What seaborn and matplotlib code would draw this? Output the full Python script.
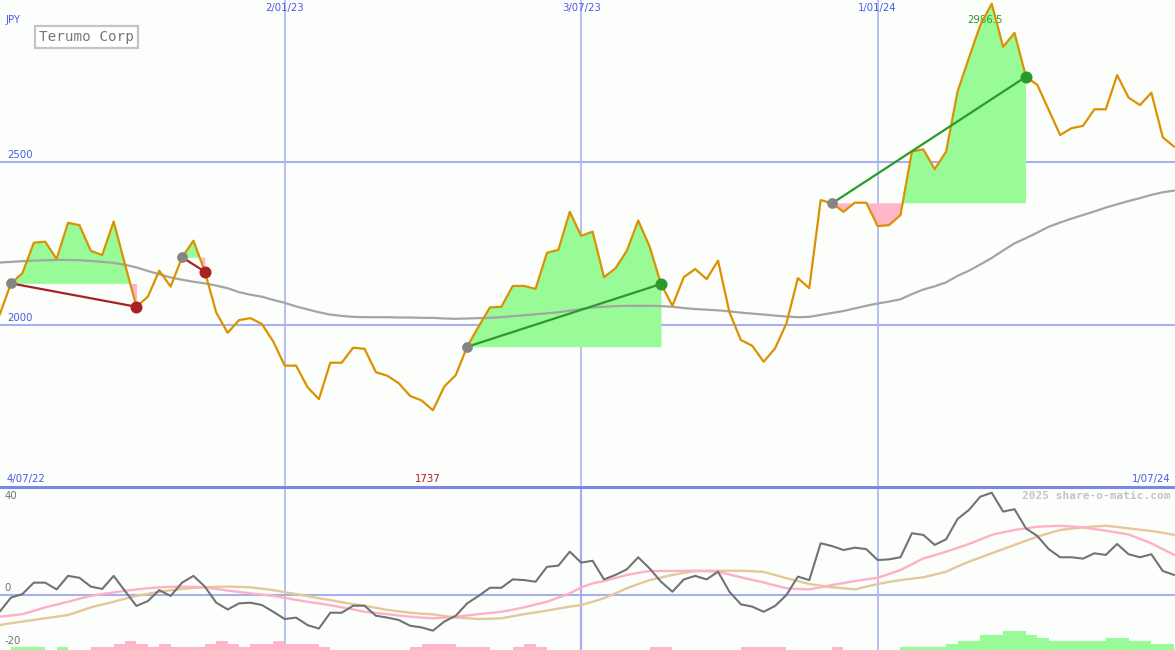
import numpy as np
import pandas as pd
import matplotlib
matplotlib.use('Agg')
import matplotlib.pyplot as plt
import matplotlib.transforms as mtransforms
import seaborn as sns

# Terumo Corp, weekly closes (JPY)
week_start = '2022-07-11'
price = [2030, 2127, 2158, 2252, 2255, 2202, 2313, 2306, 2227, 2214,
         2317, 2185, 2055, 2086, 2166, 2117, 2207, 2258, 2163, 2037,
         1975, 2014, 2020, 2002, 1948, 1874, 1874, 1808, 1771, 1883,
         1883, 1929, 1926, 1854, 1843, 1820, 1781, 1767, 1737, 1810,
         1845, 1932, 1994, 2053, 2055, 2119, 2119, 2110, 2221, 2230,
         2347, 2273, 2286, 2146, 2173, 2227, 2320, 2240, 2125, 2058,
         2146, 2171, 2140, 2197, 2038, 1953, 1935, 1886, 1927, 2004,
         2143, 2112, 2383, 2373, 2347, 2375, 2375, 2303, 2306, 2337,
         2532, 2539, 2478, 2532, 2716, 2820, 2921, 2986.5, 2854, 2897,
         2762, 2737, 2660, 2583, 2604, 2611, 2662, 2662, 2767, 2698,
         2675, 2713, 2576, 2547]

# long moving average (grey line in the price panel)
trend = [2191, 2193, 2195, 2197, 2198, 2199, 2199, 2198, 2196, 2193,
         2190, 2184, 2176, 2165, 2155, 2145, 2138, 2132, 2127, 2120,
         2112, 2100, 2092, 2086, 2076, 2067, 2056, 2047, 2038, 2031,
         2027, 2024, 2023, 2023, 2023, 2022, 2022, 2021, 2021, 2019,
         2018, 2019, 2020, 2021, 2023, 2026, 2029, 2032, 2035, 2038,
         2043, 2048, 2053, 2055, 2057, 2058, 2058, 2058, 2057, 2055,
         2051, 2048, 2046, 2044, 2041, 2037, 2034, 2031, 2028, 2025,
         2023, 2024, 2030, 2036, 2042, 2050, 2058, 2065, 2071, 2078,
         2094, 2108, 2118, 2130, 2150, 2166, 2185, 2205, 2228, 2250,
         2266, 2283, 2301, 2314, 2326, 2337, 2348, 2360, 2370, 2380,
         2389, 2399, 2407, 2412]

# lower panel: momentum and its two smoothings
momentum = [-7.2, -1.1, 0.4, 5.3, 5.3, 2.4, 8.2, 7.4, 3.6, 2.6,
            8.2, 1.7, -4.7, -2.6, 2.1, -0.4, 5.3, 8.2, 3.6, -3.3,
            -6.2, -3.6, -3.3, -4.3, -7.2, -10.3, -9.7, -12.9, -14.4, -7.6,
            -7.6, -4.6, -4.6, -8.9, -9.7, -10.7, -13.2, -13.9, -15.3, -11.4,
            -8.9, -3.6, -0.4, 3.1, 3.1, 6.7, 6.4, 5.7, 12.1, 12.6,
            18.6, 13.9, 14.7, 6.7, 8.6, 11.0, 16.2, 11.4, 5.7, 1.4,
            6.7, 8.2, 6.7, 10.0, 1.4, -4.0, -5.0, -7.2, -4.7, 0.0,
            7.9, 6.4, 22.2, 21.0, 19.3, 20.3, 19.7, 15.0, 15.3, 16.2,
            26.5, 25.8, 21.5, 23.9, 32.6, 36.5, 42.2, 43.9, 35.8, 36.8,
            28.6, 25.3, 19.7, 16.2, 16.2, 15.6, 17.9, 17.2, 21.9, 17.5,
            16.2, 17.5, 10.3, 8.6]

signal_fast = [-9.3, -8.8, -8.2, -6.8, -5.3, -4.1, -2.9, -1.6, -0.4, 0.4,
               1.1, 1.8, 2.4, 2.9, 3.3, 3.5, 3.6, 3.5, 3.3, 2.6,
               1.9, 1.3, 0.7, 0.2, -0.4, -1.2, -2.1, -2.9, -3.6, -4.4,
               -5.3, -6.2, -7.2, -7.7, -8.2, -8.8, -9.3, -9.7, -10.0, -9.7,
               -9.3, -8.8, -8.2, -7.7, -7.2, -6.3, -5.3, -4.1, -2.9, -1.1,
               0.7, 3.3, 5.0, 6.0, 7.3, 8.6, 9.5, 10.3, 10.3, 10.3,
               10.4, 10.4, 10.2, 10.0, 8.8, 7.6, 6.5, 5.4, 4.1, 2.9,
               2.6, 2.4, 3.3, 4.3, 5.1, 6.0, 6.7, 7.4, 9.0, 10.7,
               13.2, 15.7, 17.1, 18.6, 20.2, 21.9, 23.8, 25.8, 26.9, 27.9,
               28.6, 29.3, 29.5, 29.7, 29.4, 29.0, 28.3, 27.6, 26.8, 26.0,
               24.1, 22.2, 19.7, 17.2]

signal_slow = [-12.9, -12.1, -11.4, -10.7, -10.0, -9.3, -8.6, -7.0, -5.3, -4.1,
               -2.9, -1.6, -0.4, 0.5, 1.4, 2.0, 2.6, 3.0, 3.3, 3.5,
               3.6, 3.5, 3.3, 2.7, 2.1, 1.2, 0.4, -0.5, -1.4, -2.2,
               -3.1, -3.9, -4.6, -5.5, -6.4, -7.0, -7.6, -8.0, -8.3, -9.0,
               -9.7, -10.0, -10.3, -10.2, -10.0, -9.1, -8.2, -7.5, -6.7, -5.8,
               -5.0, -4.3, -2.9, -1.4, 0.7, 2.9, 4.7, 6.4, 7.5, 8.6,
               9.5, 10.3, 10.4, 10.4, 10.4, 10.4, 10.2, 9.9, 8.6, 7.2,
               6.0, 4.7, 4.0, 3.3, 2.9, 2.4, 3.6, 4.7, 5.6, 6.4,
               7.0, 7.6, 8.8, 10.0, 12.2, 14.3, 16.1, 17.9, 19.7, 21.5,
               23.3, 25.0, 26.5, 27.9, 28.5, 29.0, 29.4, 29.7, 29.2, 28.6,
               28.0, 27.5, 26.7, 25.8]

# small bars along the foot of the lower panel (+ green, - pink)
hist = [0, 1.3, 1.3, 1.3, 0, 1.3, 0, 0, -1.3, -1.3,
        -2.6, -3.9, -2.6, -1.3, -2.6, -1.3, -1.3, -1.3, -2.6, -3.9,
        -2.6, -1.3, -2.6, -2.6, -3.9, -2.6, -2.6, -2.6, -1.3, 0,
        0, 0, 0, 0, 0, 0, -1.3, -2.6, -2.6, -2.6,
        -1.3, -1.3, -1.3, 0, 0, -1.3, -2.6, -1.3, 0, 0,
        0, 0, 0, 0, 0, 0, 0, -1.3, -1.3, 0,
        0, 0, 0, 0, 0, -1.3, -1.3, -1.3, -1.3, 0,
        0, 0, 0, -1.3, 0, 0, 0, 0, 0, 1.3,
        1.3, 1.3, 1.3, 2.6, 3.9, 3.9, 6.4, 6.4, 8.2, 8.2,
        6.4, 5.2, 3.9, 3.9, 3.9, 3.9, 3.9, 5.2, 5.2, 3.9,
        3.9, 2.6, 2.6, 0]

# signal periods: index of entry and exit week
trade_start = [1, 16, 41, 73]
trade_end = [12, 18, 58, 90]

grid_dates = ['2023-01-02', '2023-07-03', '2024-01-01']
grid_labels = ['2/01/23', '3/07/23', '1/01/24']
price_levels = [2000, 2500]

BG = '#fcfefc'
GRID = '#a4b0f0'
BLUE_TXT = '#4c5ae6'
ORANGE = '#da9200'
GREEN = '#2a9a2a'
RED = '#a82222'
FILL_UP = '#98fb98'
FILL_DN = '#ffb6c8'

sns.set_style('white', {'axes.facecolor': BG, 'figure.facecolor': BG})
plt.rcParams['font.family'] = ['DejaVu Sans']

dates = pd.date_range(week_start, periods=len(price), freq='7D')
price = np.array(price, dtype=float)
df = pd.DataFrame({'date': dates, 'price': price, 'trend': trend,
                   'momentum': momentum, 'fast': signal_fast,
                   'slow': signal_slow, 'hist': hist})

fig = plt.figure(figsize=(11.75, 6.5), dpi=100, facecolor=BG)
ax = fig.add_axes([0, 163 / 650, 1, 487 / 650])
ax2 = fig.add_axes([0, 0, 1, 163 / 650])
x_lo = pd.Timestamp('2022-07-11 06:00')
x_hi = pd.Timestamp('2024-07-01 12:00')

for a in (ax, ax2):
    a.set_facecolor(BG)
    a.set_xlim(x_lo, x_hi)
    a.set_xticks([])
    a.set_yticks([])
    for s in a.spines.values():
        s.set_visible(False)
for d in grid_dates:
    ax.axvline(pd.Timestamp(d), color=GRID, lw=1.1, zorder=0)
    ax2.axvline(pd.Timestamp(d), color=GRID, lw=1.6 if d == '2023-07-03' else 1.1, zorder=0)

# ---- price panel ----
ax.set_ylim(1501, 2998)
for lvl in price_levels:
    ax.axhline(lvl, color=GRID, lw=1.5, zorder=0)

for s, e in zip(trade_start, trade_end):
    seg = df.iloc[s:e + 1]
    base = price[s]
    ax.fill_between(seg['date'], seg['price'], base, where=seg['price'] >= base,
                    interpolate=True, color=FILL_UP, lw=0, zorder=1)
    ax.fill_between(seg['date'], seg['price'], base, where=seg['price'] < base,
                    interpolate=True, color=FILL_DN, lw=0, zorder=1)

sns.lineplot(data=df, x='date', y='trend', ax=ax, color='#a4a4a4', lw=1.6, zorder=2)
sns.lineplot(data=df, x='date', y='price', ax=ax, color=ORANGE, lw=1.6, zorder=3)

for s, e in zip(trade_start, trade_end):
    col = GREEN if price[e] > price[s] else RED
    ax.plot([dates[s], dates[e]], [price[s], price[e]], color=col, lw=1.6, zorder=4)
    ax.scatter([dates[s]], [price[s]], s=60, color='#858585', zorder=5, lw=0)
    ax.scatter([dates[e]], [price[e]], s=75, color=col, zorder=5, lw=0)

ax.set_xlabel('')
ax.set_ylabel('')
ax.set_xlim(x_lo, x_hi)

xt = ax.get_xaxis_transform()
yt = mtransforms.blended_transform_factory(ax.transAxes, ax.transData)
for d, lab in zip(grid_dates, grid_labels):
    ax.text(pd.Timestamp(d), 1 - 8 / 487, lab, transform=xt, ha='center',
            va='center', fontsize=7.3, color=BLUE_TXT)
for lvl in price_levels:
    ax.text(0.006, lvl + 5, str(lvl), transform=yt, ha='left', va='bottom',
            fontsize=7.3, color=BLUE_TXT)

imax = int(np.argmax(price))
imin = int(np.argmin(price))
ax.text(dates[imax] - pd.Timedelta(days=4), 1 - 20 / 487, f'{price[imax]:.1f}',
        transform=xt, ha='center', va='center', fontsize=7.3, color=GREEN, zorder=2)
ax.text(dates[imin] - pd.Timedelta(days=3), 1 - 479 / 487, f'{price[imin]:.0f}',
        transform=xt, ha='center', va='center', fontsize=7.3, color=RED)
ax.text(0.006, 1 - 479 / 487, '4/07/22', transform=ax.transAxes, ha='left',
        va='center', fontsize=7.3, color=BLUE_TXT)
ax.text(0.996, 1 - 479 / 487, '1/07/24', transform=ax.transAxes, ha='right',
        va='center', fontsize=7.3, color=BLUE_TXT)
ax.text(0.005, 1 - 20 / 487, 'JPY', transform=ax.transAxes, ha='left',
        va='center', fontsize=7.3, color=BLUE_TXT)
ax.text(0.0335, 1 - 37 / 487, 'Terumo Corp', transform=ax.transAxes, ha='left',
        va='center', fontsize=10.3, color='#777777', family='DejaVu Sans Mono',
        bbox=dict(boxstyle='square,pad=0.28', fc='white', ec='#c4c4c4', lw=1.6))

# ---- indicator panel ----
ax2.set_ylim(-23.6, 46.35)
ax2.axhline(0, color=GRID, lw=1.5, zorder=0)
ax2.spines['top'].set_visible(True)
ax2.spines['top'].set_color('#7a86e8')
ax2.spines['top'].set_linewidth(2.2)

bar_base = ax2.get_ylim()[0]
bar_cols = [FILL_UP if h > 0 else FILL_DN for h in hist]
ax2.bar(dates, np.abs(hist), width=7, align='edge', bottom=bar_base,
        color=bar_cols, lw=0, zorder=1)

sns.lineplot(data=df, x='date', y='slow', ax=ax2, color='#e4c898', lw=1.7, zorder=2)
sns.lineplot(data=df, x='date', y='fast', ax=ax2, color='#ffb0c4', lw=1.7, zorder=3)
sns.lineplot(data=df, x='date', y='momentum', ax=ax2, color='#727272', lw=1.5, zorder=4)
ax2.set_xlabel('')
ax2.set_ylabel('')
ax2.set_xlim(x_lo, x_hi)
ax2.set_ylim(-23.6, 46.35)

for lab, ypx in zip(['40', '0', '-20'], [496, 588, 641]):
    ax2.text(0.004, (650 - ypx) / 163, lab, transform=ax2.transAxes, ha='left',
             va='center', fontsize=7.3, color='#707070')
ax2.text(0.996, (650 - 496) / 163, '2025 share-o-matic.com', transform=ax2.transAxes,
         ha='right', va='center', fontsize=8, color='#c4c4c4',
         family='DejaVu Sans Mono', fontweight='bold')

fig.savefig('out.png', dpi=100, facecolor=BG)
